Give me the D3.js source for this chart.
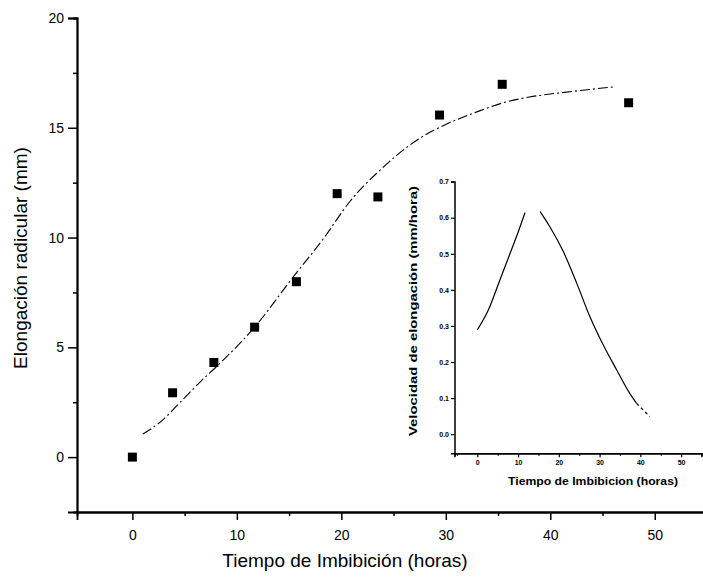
<!DOCTYPE html>
<html><head><meta charset="utf-8">
<script src="https://cdn.jsdelivr.net/npm/d3@7"></script>
<style>body{margin:0;background:#fff}svg{display:block}</style>
</head><body><svg id="c" width="703" height="582"></svg>
<script>
// ---- data ----
const pointTimes   = [0, 3.85, 7.8, 11.7, 15.7, 19.6, 23.5, 29.4, 35.4, 47.5];
const pointLengths = [0, 2.93, 4.31, 5.92, 7.99, 12.0, 11.85, 15.58, 16.98, 16.14];
const fitTimes     = [1.0, 2.8, 4.5, 6.5, 8.4, 11.7, 15.4, 18.3, 20.8, 24.0, 27.5, 30.0, 33.0, 35.5, 38.0, 41.1, 43.3, 46.2];
const fitLengths   = [1.05, 1.65, 2.46, 3.43, 4.28, 5.92, 8.21, 9.96, 11.63, 13.2, 14.52, 15.15, 15.73, 16.14, 16.4, 16.6, 16.72, 16.87];
const xTickValues  = [0, 10, 20, 30, 40, 50];
const yTickValues  = [0, 5, 10, 15, 20];
const rateTimes    = [0, 2.7, 5.56, 8.0, 10.05, 11.7, 13.5, 15.4, 17.8, 21.1, 24.4, 27.6, 30.9, 34.2, 37.4, 39.1];
const rateValues   = [0.289, 0.344, 0.428, 0.50, 0.561, 0.614, null, 0.617, 0.575, 0.506, 0.418, 0.326, 0.247, 0.178, 0.113, 0.085];
const rateTailTimes  = [39.1, 42.3];
const rateTailValues = [0.085, 0.049];
const insetXTicks  = [0, 10, 20, 30, 40, 50];
const insetYTicks  = [0, 0.1, 0.2, 0.3, 0.4, 0.5, 0.6, 0.7];

const svg = d3.select("#c");
const FONT = "'Liberation Sans', Arial, sans-serif";

// ---- main chart ----
const x = d3.scaleLinear().domain([-5.3, 55]).range([77, 707]);
const y = d3.scaleLinear().domain([-2.5, 20]).range([512, 18]);

const gx = svg.append("g").attr("transform", `translate(0,${y(-2.5)})`)
  .call(d3.axisBottom(x).tickValues(xTickValues).tickSize(8).tickPadding(10).tickFormat(d3.format("d")));
const gxm = svg.append("g").attr("transform", `translate(0,${y(-2.5)})`)
  .call(d3.axisBottom(x).tickValues([5,15,25,35,45]).tickSize(4).tickFormat(""));
const gy = svg.append("g").attr("transform", `translate(${x(-5.3)},0)`)
  .call(d3.axisLeft(y).tickValues(yTickValues).tickSize(9).tickPadding(4).tickFormat(d3.format("d")));
const gym = svg.append("g").attr("transform", `translate(${x(-5.3)},0)`)
  .call(d3.axisLeft(y).tickValues([2.5,7.5,12.5,17.5]).tickSize(4).tickFormat(""));
[gx, gxm, gy, gym].forEach(g => {
  g.select(".domain").attr("stroke", "#000").attr("stroke-width", 1.8);
  g.selectAll(".tick line").attr("stroke", "#000").attr("stroke-width", 1.5);
  g.selectAll("text").attr("font-family", FONT).attr("font-size", 14).attr("fill", "#000");
});

svg.append("text").attr("x", 345).attr("y", 567).attr("text-anchor", "middle")
  .attr("font-family", FONT).attr("font-size", 19).text("Tiempo de Imbibición (horas)");
svg.append("text").attr("transform", "translate(27,258) rotate(-90)").attr("text-anchor", "middle")
  .attr("font-family", FONT).attr("font-size", 19).text("Elongación radicular (mm)");

const fit = fitTimes.map((t, i) => [t, fitLengths[i]]);
svg.append("path").datum(fit)
  .attr("d", d3.line().x(d => x(d[0])).y(d => y(d[1])).curve(d3.curveMonotoneX))
  .attr("fill", "none").attr("stroke", "#000").attr("stroke-width", 1.1)
  .attr("stroke-dasharray", "10,3,2,3");

svg.append("g").selectAll("rect").data(pointTimes.map((t, i) => [t, pointLengths[i]]))
  .join("rect")
  .attr("x", d => x(d[0]) - 4.5).attr("y", d => y(d[1]) - 4.5)
  .attr("width", 9).attr("height", 9).attr("fill", "#000");

// ---- inset ----
const ix = d3.scaleLinear().domain([-5.6, 55]).range([454.5, 701.5]);
const iy = d3.scaleLinear().domain([-0.053, 0.7]).range([453.3, 181.6]);

const igx = svg.append("g").attr("transform", `translate(0,${iy(-0.053)})`)
  .call(d3.axisBottom(ix).tickValues(insetXTicks).tickSize(4).tickPadding(3).tickFormat(d3.format("d")));
const igxm = svg.append("g").attr("transform", `translate(0,${iy(-0.053)})`)
  .call(d3.axisBottom(ix).tickValues([-5,5,15,25,35,45]).tickSize(2.5).tickFormat(""));
const igy = svg.append("g").attr("transform", `translate(${ix(-5.6)},0)`)
  .call(d3.axisLeft(iy).tickValues(insetYTicks).tickSize(3.5).tickPadding(2).tickFormat(d3.format(".1f")));
[igx, igxm, igy].forEach(g => {
  g.select(".domain").attr("stroke", "#000").attr("stroke-width", 1.5);
  g.selectAll(".tick line").attr("stroke", "#000").attr("stroke-width", 1.2);
  g.selectAll("text").attr("font-family", FONT).attr("font-size", 7).attr("font-weight", "bold").attr("fill", "#000");
});

svg.append("text").attr("x", 593).attr("y", 485).attr("text-anchor", "middle")
  .attr("font-family", FONT).attr("font-size", 10.5).attr("font-weight", "bold")
  .attr("textLength", 170).attr("lengthAdjust", "spacingAndGlyphs").text("Tiempo de Imbibicion (horas)");
svg.append("text").attr("transform", "translate(417,311) rotate(-90)").attr("text-anchor", "middle")
  .attr("font-family", FONT).attr("font-size", 10.5).attr("font-weight", "bold")
  .attr("textLength", 250).attr("lengthAdjust", "spacingAndGlyphs").text("Velocidad de elongación (mm/hora)");

const rate = rateTimes.map((t, i) => [t, rateValues[i]]);
svg.append("path").datum(rate)
  .attr("d", d3.line().defined(d => d[1] !== null).x(d => ix(d[0])).y(d => iy(d[1])).curve(d3.curveMonotoneX))
  .attr("fill", "none").attr("stroke", "#000").attr("stroke-width", 1.2);
const tail = rateTailTimes.map((t, i) => [t, rateTailValues[i]]);
svg.append("path").datum(tail)
  .attr("d", d3.line().x(d => ix(d[0])).y(d => iy(d[1])))
  .attr("fill", "none").attr("stroke", "#000").attr("stroke-width", 1.2)
  .attr("stroke-dasharray", "3,3");
</script></body></html>
